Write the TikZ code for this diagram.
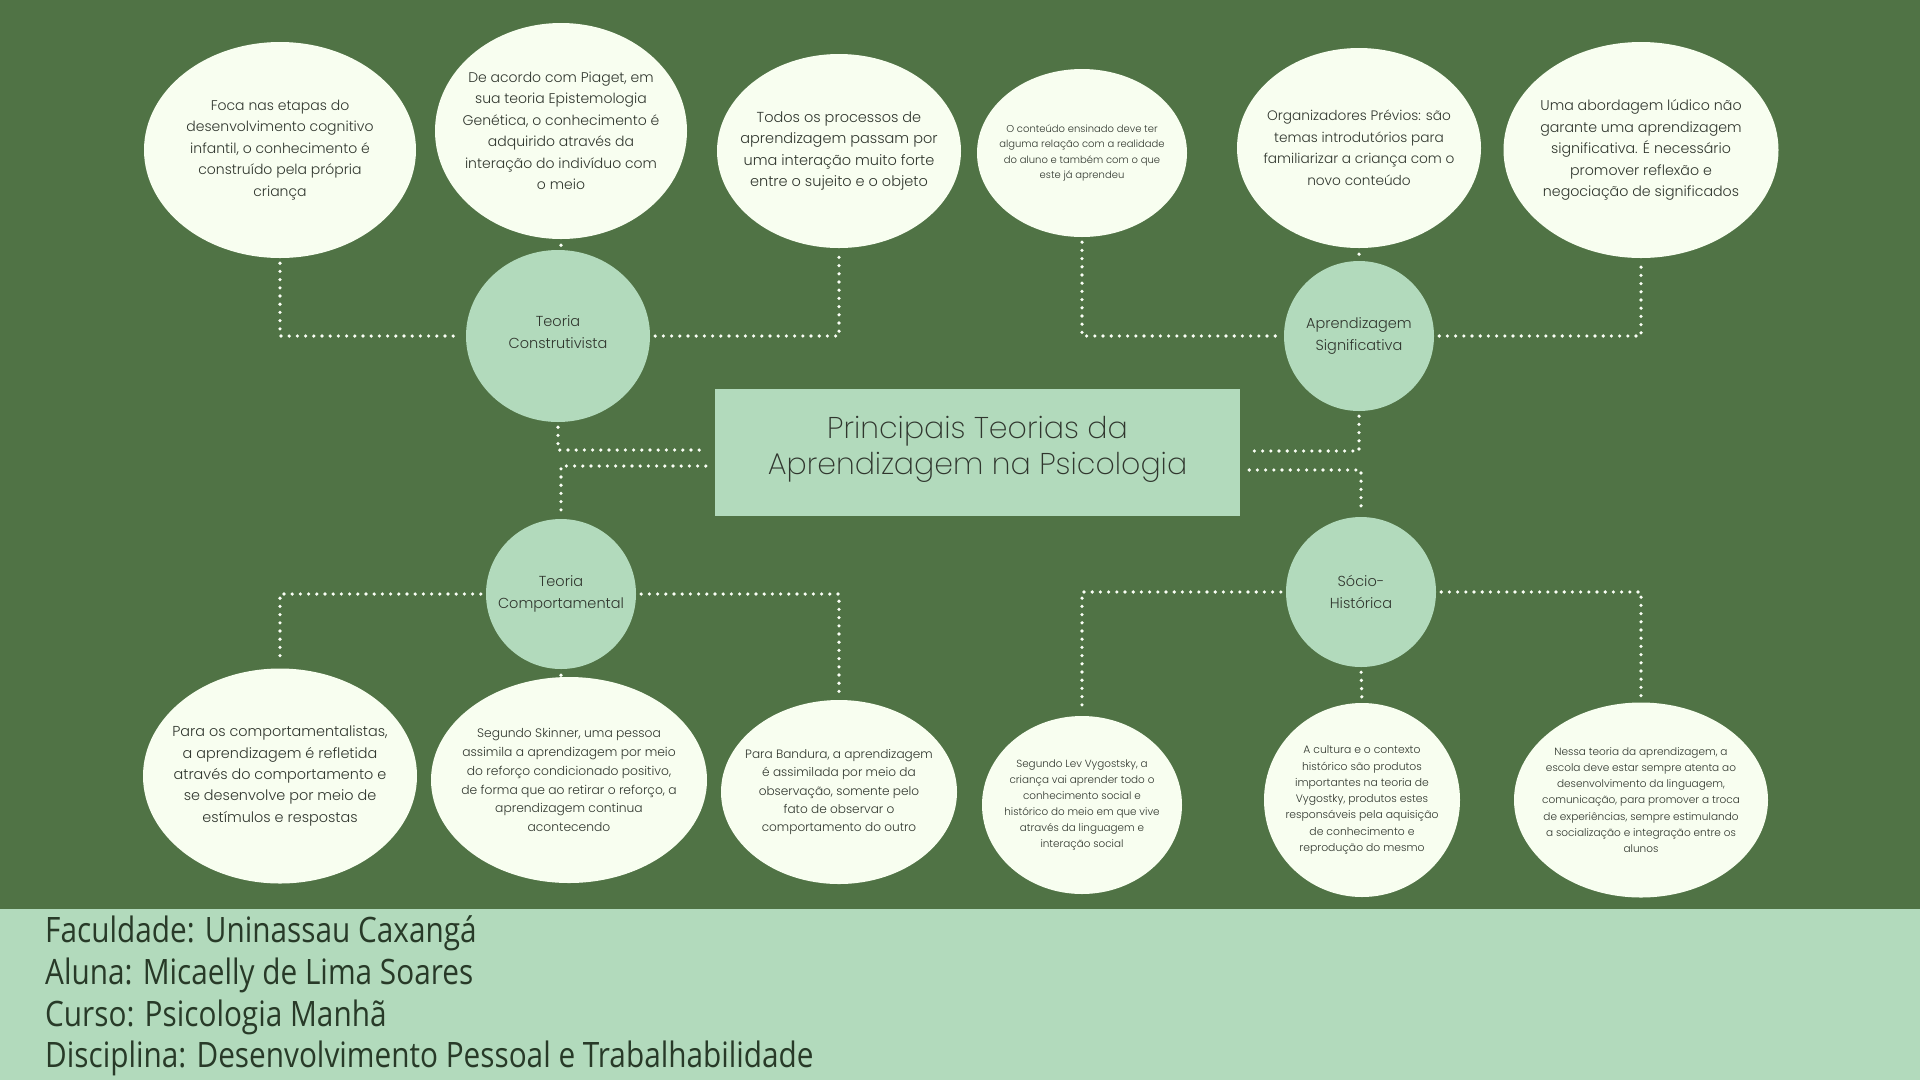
\documentclass[tikz,border=0pt]{standalone}
\usepackage{fontspec}
\usepackage{tikz}
\usetikzlibrary{shapes.geometric}
\newfontfamily\tpbody{Poppins Light}
\newfontfamily\tptitle{Poppins ExtraLight}
\newfontfamily\tpfoot[FakeStretch=0.85]{Open Sans}
\definecolor{tpback}{RGB}{80,115,69}
\definecolor{tpmint}{RGB}{178,218,188}
\definecolor{tpcream}{RGB}{248,254,240}
\definecolor{tpink}{RGB}{48,54,46}
\definecolor{tpfootink}{RGB}{40,58,40}
\definecolor{tpdot}{RGB}{250,255,246}
\tikzset{
  tpBubble/.style 2 args={ellipse, fill=tpcream, inner sep=-25pt, align=center,
                          text=tpink, font=\tpbody\fontsize{#1}{#2}\selectfont},
  tpHub/.style={ellipse, fill=tpmint, inner sep=-25pt, align=center, text=tpink,
                font=\tpbody\fontsize{14.5}{22}\selectfont},
  tpTitle/.style={rectangle, fill=tpmint, inner sep=0pt, align=center,
                  minimum width=525pt, minimum height=127pt, text=tpink,
                  text depth=15pt, font=\tptitle\fontsize{30}{36}\selectfont},
  tpFooter/.style={anchor=west, align=left, inner sep=0pt, text=tpfootink,
                   font=\tpfoot\fontsize{35}{41.6}\selectfont},
  tpDots/.style={draw=tpdot, line width=3.6pt, line cap=round,
                 dash pattern=on 0pt off 8.2pt, shorten >=5pt, shorten <=5pt}
}
\begin{document}
\begin{tikzpicture}[x=1pt,y=-1pt]
  \fill[tpback] (0,0) rectangle (1920,1080);
  \fill[tpmint] (0,909) rectangle (1920,1080);
  \useasboundingbox (0,0) rectangle (1920,1080);

  \node[tpTitle] (title) at (977.5,452.5) {Principais Teorias da\\Aprendizagem na Psicologia};

  \node[tpHub, minimum width=184pt, minimum height=172pt, text depth=7pt] (constr) at (558,336) {Teoria\\Construtivista};
  \node[tpHub, minimum size=150pt] (signif) at (1359,336) {Aprendizagem\\Significativa};
  \node[tpHub, minimum size=150pt] (comport) at (561,594) {Teoria\\Comportamental};
  \node[tpHub, minimum size=150pt] (socio) at (1361,592) {Sócio-\\Histórica};

  \node[tpBubble={14}{21.5}, minimum width=272pt, minimum height=216pt] (etapas) at (280,150)
        {Foca nas etapas do\\desenvolvimento cognitivo\\infantil, o conhecimento é\\construído pela própria\\criança};
  \node[tpBubble={14}{21.5}, minimum width=252pt, minimum height=216pt] (piaget) at (561,131)
        {De acordo com Piaget, em\\sua teoria Epistemologia\\Genética, o conhecimento é\\adquirido através da\\interação do indivíduo com\\o meio};
  \node[tpBubble={14.5}{21.5}, minimum width=244pt, minimum height=194pt] (processos) at (839,151)
        {Todos os processos de\\aprendizagem passam por\\uma interação muito forte\\entre o sujeito e o objeto};
  \node[tpBubble={10}{15.5}, minimum width=210pt, minimum height=168pt] (conteudo) at (1082,153)
        {O conteúdo ensinado deve ter\\alguma relação com a realidade\\do aluno e também com o que\\este já aprendeu};
  \node[tpBubble={13.7}{21.5}, minimum width=244pt, minimum height=200pt] (previos) at (1359,148)
        {Organizadores Prévios: são\\temas introdutórios para\\familiarizar a criança com o\\novo conteúdo};
  \node[tpBubble={14.2}{21.5}, minimum width=275pt, minimum height=216pt] (ludico) at (1641,150)
        {Uma abordagem lúdico não\\garante uma aprendizagem\\significativa. É necessário\\promover reflexão e\\negociação de significados};

  \node[tpBubble={14.4}{21.4}, minimum width=274pt, minimum height=215pt] (estimulos) at (280,776)
        {Para os comportamentalistas,\\a aprendizagem é refletida\\através do comportamento e\\se desenvolve por meio de\\estímulos e respostas};
  \node[tpBubble={12.3}{18.9}, minimum width=276pt, minimum height=206pt] (skinner) at (569,780)
        {Segundo Skinner, uma pessoa\\assimila a aprendizagem por meio\\do reforço condicionado positivo,\\de forma que ao retirar o reforço, a\\aprendizagem continua\\acontecendo};
  \node[tpBubble={12.1}{18.4}, minimum width=236pt, minimum height=184pt] (bandura) at (839,792)
        {Para Bandura, a aprendizagem\\é assimilada por meio da\\observação, somente pelo\\fato de observar o\\comportamento do outro};
  \node[tpBubble={10.4}{16}, minimum width=200pt, minimum height=178pt] (vygotsky) at (1082,805)
        {Segundo Lev Vygostsky, a\\criança vai aprender todo o\\conhecimento social e\\histórico do meio em que vive\\através da linguagem e\\interação social};
  \node[tpBubble={10.8}{16.3}, minimum width=196pt, minimum height=194pt] (cultura) at (1362,800)
        {A cultura e o contexto\\histórico são produtos\\importantes na teoria de\\Vygostky, produtos estes\\responsáveis pela aquisição\\de conhecimento e\\reprodução do mesmo};
  \node[tpBubble={10.5}{16.3}, minimum width=254pt, minimum height=195pt] (escola) at (1641,800)
        {Nessa teoria da aprendizagem, a\\escola deve estar sempre atenta ao\\desenvolvimento da linguagem,\\comunicação, para promover a troca\\de experiências, sempre estimulando\\a socialização e integração entre os\\alunos};

  \node[tpFooter] (credits) at (45,996)
        {Faculdade: Uninassau Caxangá\\Aluna: Micaelly de Lima Soares\\Curso: Psicologia Manhã\\Disciplina: Desenvolvimento Pessoal e Trabalhabilidade};

  \draw[tpDots] (etapas.south) |- (constr.west);
  \draw[tpDots, shorten >=2pt, shorten <=6pt] (piaget.south) -- (piaget.south |- constr.north);
  \draw[tpDots] (constr.east) -| (processos.south);
  \draw[tpDots] (conteudo.south) |- (signif.west);
  \draw[tpDots, shorten >=2pt, shorten <=6pt] (previos.south) -- (signif.north);
  \draw[tpDots] (signif.east) -| (ludico.south);
  \draw[tpDots, shorten >=9pt] (constr.south) |- ([yshift=2.5pt]title.west);
  \draw[tpDots, shorten <=9pt] ([yshift=-13.5pt]title.west) -| (comport.north);
  \draw[tpDots, shorten >=9pt] (signif.south) |- ([yshift=1.5pt]title.east);
  \draw[tpDots, shorten <=9pt] ([yshift=-17.5pt]title.east) -| (socio.north);
  \draw[tpDots] (comport.west) -| (estimulos.north);
  \draw[tpDots, shorten >=2pt, shorten <=6pt] (comport.south) -- (comport.south |- skinner.north);
  \draw[tpDots] (comport.east) -| (bandura.north);
  \draw[tpDots] (socio.west) -| (vygotsky.north);
  \draw[tpDots] (socio.south) -- (cultura.north);
  \draw[tpDots] (socio.east) -| (escola.north);
\end{tikzpicture}
\end{document}
